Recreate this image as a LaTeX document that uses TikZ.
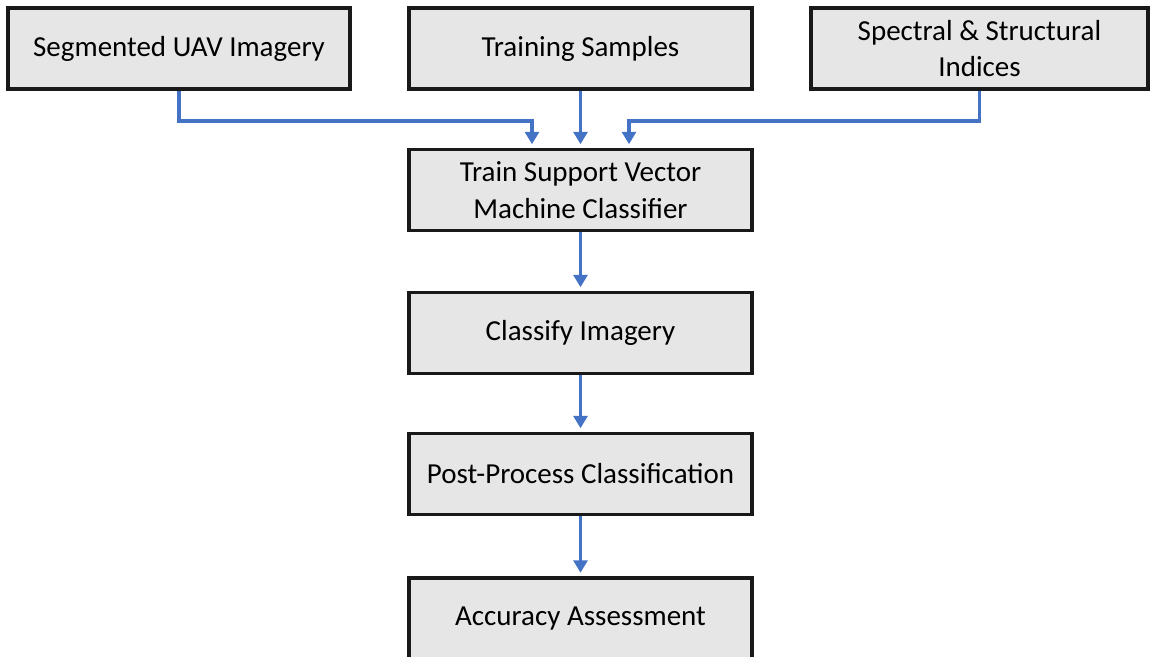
\documentclass[tikz,border=0pt]{standalone}
\usepackage{fontspec}
\setmainfont{Carlito}
\usepackage{tikz}
\usetikzlibrary{arrows.meta}
\definecolor{boxgray}{RGB}{231,230,230}
\definecolor{flowblue}{RGB}{68,114,196}
\tikzset{
  stepbox/.style={draw=black!90, line width=2pt, fill=boxgray, minimum width=6.86cm,
    minimum height=1.62cm, inner sep=0pt, align=center, font=\fontsize{16.5}{21}\selectfont},
  flow/.style={draw=flowblue, line width=2.1pt, -{Triangle[width=0.28cm,length=0.25cm]},
    shorten >=0.07cm}
}

\begin{document}
\begin{tikzpicture}
\clip (0,0) rectangle (23,-13.12);
\useasboundingbox (0,0) rectangle (23,-13.12);
% inputs
\node[stepbox, minimum width=6.84cm] (seg) at (3.58,-0.97) {Segmented UAV Imagery};
\node[stepbox] (train) at (11.61,-0.97) {Training Samples};
\node[stepbox, minimum width=6.74cm] (indices) at (19.59,-0.97) {Spectral \& Structural\\Indices};
% processing chain
\node[stepbox] (svm) at (11.61,-3.8) {Train Support Vector\\Machine Classifier};
\node[stepbox] (classify) at (11.61,-6.66) {Classify Imagery};
\node[stepbox] (post) at (11.61,-9.48) {Post-Process Classification};
\node[stepbox] (accuracy) at (11.61,-12.37) {Accuracy Assessment};
\coordinate (inL) at ([xshift=-0.97cm]svm.north);
\coordinate (inR) at ([xshift=0.97cm]svm.north);
\draw[flow] (seg.south) -- ++(0,-0.6) -| (inL);
\draw[flow] (train.south) -- (svm.north);
\draw[flow] (indices.south) -- ++(0,-0.6) -| (inR);
\draw[flow] (svm.south) -- (classify.north);
\draw[flow] (classify.south) -- (post.north);
\draw[flow] (post.south) -- (accuracy.north);
\end{tikzpicture}
\end{document}
